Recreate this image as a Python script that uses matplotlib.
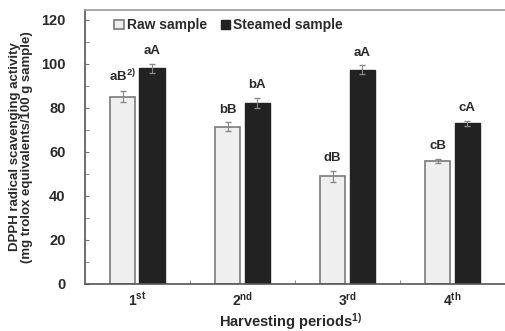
import numpy as np
import matplotlib
matplotlib.use("Agg")
import matplotlib.pyplot as plt
from matplotlib.ticker import MultipleLocator

plt.rcParams['font.family'] = 'Liberation Sans'
plt.rcParams['font.weight'] = 'bold'
plt.rcParams['axes.labelweight'] = 'bold'
plt.rcParams['mathtext.fontset'] = 'custom'
plt.rcParams['mathtext.rm'] = 'Liberation Sans:bold'
plt.rcParams['mathtext.it'] = 'Liberation Sans:bold'
plt.rcParams['mathtext.bf'] = 'Liberation Sans:bold'

periods = ['1$^{\\mathrm{st}}$', '2$^{\\mathrm{nd}}$', '3$^{\\mathrm{rd}}$', '4$^{\\mathrm{th}}$']
raw = [85.0, 71.4, 49.0, 55.8]
raw_err = [2.5, 2.0, 2.5, 1.0]
steamed = [98.0, 82.3, 97.3, 73.0]
steamed_err = [2.0, 2.2, 2.0, 1.0]
raw_lab = ['aB$^{2)}$', 'bB', 'dB', 'cB']
steamed_lab = ['aA', 'bA', 'aA', 'cA']

txt = '#2a2a2a'
x = np.arange(1, 5)
w = 0.24
off = 0.14

fig = plt.figure(figsize=(5.05, 3.31), dpi=100)
ax = fig.add_axes([0.168, 0.142, 0.832, 0.828])

ax.bar(x - off, raw, w, color='#efefef', edgecolor='#7a7a7a', linewidth=1.2,
       label='Raw sample', zorder=2)
ax.bar(x + off, steamed, w, color='#222222', edgecolor='#222222', linewidth=1.0,
       label='Steamed sample', zorder=2)
ax.errorbar(x - off, raw, yerr=raw_err, fmt='none', ecolor='#888888',
            elinewidth=0.8, capsize=2, zorder=3)
ax.errorbar(x + off, steamed, yerr=steamed_err, fmt='none', ecolor='#888888',
            elinewidth=0.8, capsize=2, zorder=3)

for i in range(4):
    ax.text(x[i] - off, raw[i] + raw_err[i] + 3, raw_lab[i], ha='center',
            va='bottom', fontsize=9.5, color=txt)
    ax.text(x[i] + off, steamed[i] + steamed_err[i] + 3, steamed_lab[i],
            ha='center', va='bottom', fontsize=9.5, color=txt)

ax.set_xlim(0.5, 4.5)
ax.set_ylim(0, 124.5)
ax.set_xticks(x)
ax.set_xticklabels(periods, fontsize=10, color=txt)
ax.set_xticks([1.5, 2.5, 3.5], minor=True)
ax.set_yticks(np.arange(0, 121, 20))
ax.yaxis.set_minor_locator(MultipleLocator(10))
ax.tick_params(axis='x', which='major', length=0, pad=5)
ax.tick_params(axis='x', which='minor', direction='in', length=3, color='#777777')
ax.tick_params(axis='y', which='both', direction='in', length=3, color='#777777',
               labelsize=10.5, labelcolor=txt, pad=14)

for s in ['left', 'bottom']:
    ax.spines[s].set_color('#555555')
    ax.spines[s].set_linewidth(1.2)
ax.spines['top'].set_color('#999999')
ax.spines['top'].set_linewidth(1.2)
ax.spines['right'].set_visible(False)

xl = ax.set_xlabel('Harvesting periods$^{1)}$', fontsize=10.5, color=txt)
xl.set_va('center')
ax.xaxis.set_label_coords(0.49, -0.138)
ax.set_ylabel('DPPH radical scavenging activity\n(mg trolox equivalents/100 g sample)',
              fontsize=9.5, color=txt, labelpad=6, linespacing=1.0)

ax.legend(loc='upper left', bbox_to_anchor=(0.04, 1.015), ncol=2, frameon=False,
          fontsize=10, handlelength=0.7, handleheight=0.7, handletextpad=0.2,
          columnspacing=1.0, labelcolor=txt)

fig.savefig('out.png', dpi=100)
